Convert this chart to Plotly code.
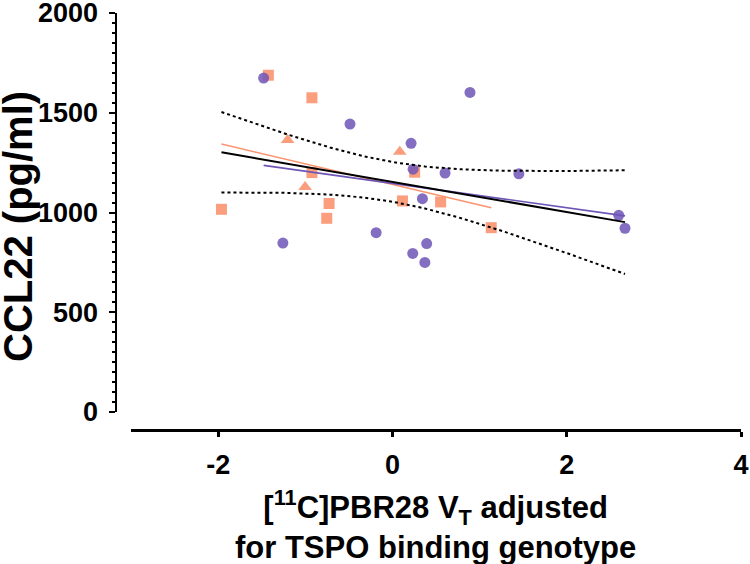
import numpy as np
import plotly.graph_objects as go

# --- data ---
purple_x = [-1.478, -0.487, 0.214, 0.237, 0.604, 1.451, 0.890, 0.344, -0.187,
            -1.257, 0.393, 0.233, 0.372, 2.597, 2.669]
purple_y = [1674, 1443, 1347, 1217, 1198, 1194, 1602, 1069, 899,
            847, 844, 795, 750, 986, 921]

sq_x = [-1.424, -0.924, -0.924, 0.255, -1.962, -0.727, -0.754, 0.115, 0.553, 1.134]
sq_y = [1688, 1575, 1200, 1202, 1016, 1045, 971, 1058, 1053, 924]

tri_x = [-1.203, 0.084, -1.002]
tri_y = [1363, 1305, 1128]

x_ticks = [-2, 0, 2, 4]
x_tick_labels = ["-2", "0", "2", "4"]
y_ticks = [0, 500, 1000, 1500, 2000]

PURPLE = "#6E55B6"
ORANGE = "#FA9470"

def fit(xs, ys):
    xs = np.asarray(xs, float); ys = np.asarray(ys, float)
    b, a = np.polyfit(xs, ys, 1)
    return a, b

orange_x = sq_x + tri_x
orange_y = sq_y + tri_y
all_x = np.array(purple_x + orange_x, float)
all_y = np.array(purple_y + orange_y, float)

# overall regression with 95% confidence band
a_all, b_all = fit(all_x, all_y)
n = len(all_x)
resid = all_y - (a_all + b_all * all_x)
s = np.sqrt(np.sum(resid ** 2) / (n - 2))
xm = all_x.mean(); sxx = np.sum((all_x - xm) ** 2)
t_crit = 2.056  # t(0.975, df=26)
xb = np.linspace(all_x.min(), all_x.max(), 120)
yb = a_all + b_all * xb
half = t_crit * s * np.sqrt(1.0 / n + (xb - xm) ** 2 / sxx)

a_p, b_p = fit(purple_x, purple_y)
xp = np.array([min(purple_x), max(purple_x)])
a_o, b_o = fit(orange_x, orange_y)
xo = np.array([min(orange_x), max(orange_x)])

fig = go.Figure()
fig.add_trace(go.Scatter(x=sq_x, y=sq_y, mode="markers",
                         marker=dict(symbol="square", size=11, color=ORANGE, opacity=0.9),
                         showlegend=False))
fig.add_trace(go.Scatter(x=tri_x, y=tri_y, mode="markers",
                         marker=dict(symbol="triangle-up", size=12, color=ORANGE, opacity=0.9),
                         showlegend=False))
fig.add_trace(go.Scatter(x=purple_x, y=purple_y, mode="markers",
                         marker=dict(symbol="circle", size=11, color=PURPLE, opacity=0.85),
                         showlegend=False))
fig.add_trace(go.Scatter(x=xb, y=yb + half, mode="lines",
                         line=dict(color="black", width=2, dash="dot"), showlegend=False))
fig.add_trace(go.Scatter(x=xb, y=yb - half, mode="lines",
                         line=dict(color="black", width=2, dash="dot"), showlegend=False))
fig.add_trace(go.Scatter(x=xo, y=a_o + b_o * xo, mode="lines",
                         line=dict(color=ORANGE, width=1.6), showlegend=False))
fig.add_trace(go.Scatter(x=xp, y=a_p + b_p * xp, mode="lines",
                         line=dict(color=PURPLE, width=1.6), showlegend=False))
fig.add_trace(go.Scatter(x=xb, y=yb, mode="lines",
                         line=dict(color="black", width=2), showlegend=False))

L, R, T, B = 110, 9, 13, 134
W, H = 750, 564
pw = W - L - R
ph = H - T - B

FONT = "Liberation Sans, Arial, sans-serif"
tick_font = dict(family=FONT, size=27, color="black", weight="bold")

fig.update_layout(
    width=W, height=H,
    margin=dict(l=L, r=R, t=T, b=B, autoexpand=False),
    plot_bgcolor="white", paper_bgcolor="white",
    xaxis=dict(range=[-3, 4], domain=[(131 - L) / pw, 1.0], anchor="free", position=0,
               tickvals=x_ticks, ticktext=x_tick_labels,
               ticks="outside", ticklen=5, tickwidth=2.5, tickcolor="black",
               showline=True, linecolor="black", linewidth=2.5, showgrid=False, zeroline=False,
               tickfont=tick_font, ticklabelstandoff=5, ticklabeloverflow="allow",
               automargin=False),
    yaxis=dict(range=[0, 2000], domain=[(430 - 412) / ph, 1.0], anchor="free",
               position=(115.5 - L) / pw,
               tickvals=y_ticks, ticks="outside", ticklen=6, tickwidth=2, tickcolor="black",
               showline=True, linecolor="black", linewidth=2, showgrid=False, zeroline=False,
               tickfont=tick_font, ticklabelstandoff=5, ticklabeloverflow="allow",
               automargin=False,
               minor=dict(dtick=50, ticks="outside", ticklen=3, tickwidth=1.5,
                          tickcolor="black", showgrid=False)),
    annotations=[
        dict(text="CCL22 (pg/ml)", textangle=-90, xref="paper", yref="paper",
             x=(18 - L) / pw, y=(430 - 227) / ph, xanchor="center", yanchor="middle",
             showarrow=False,
             font=dict(family=FONT, size=40, color="black", weight="bold")),
        dict(text="[<sup>11</sup>C]PBR28 V<sub>T</sub> adjusted<br>for TSPO binding genotype",
             xref="paper", yref="paper", x=((131 + 740) / 2 - L) / pw, y=(430 - 525) / ph,
             xanchor="center", yanchor="middle", showarrow=False,
             font=dict(family=FONT, size=31, color="black", weight="bold")),
    ],
)

fig.write_html("out.html", config={"displayModeBar": False},
               post_script="document.body.style.margin='0';document.body.style.overflow='hidden';")
